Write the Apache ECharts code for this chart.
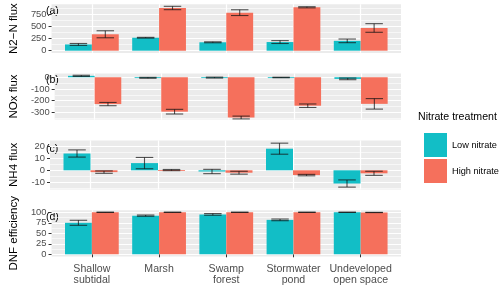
<!DOCTYPE html>
<html><head><meta charset="utf-8">
<script src="https://cdn.jsdelivr.net/npm/echarts@6/dist/echarts.min.js"></script>
<style>html,body{margin:0;padding:0;background:#fff}#c{width:500px;height:289px}</style>
</head><body><div id="c"></div><script>
// ---- data ----
const categories = ['Shallow\nsubtidal', 'Marsh', 'Swamp\nforest', 'Stormwater\npond', 'Undeveloped\nopen space'];
const seriesNames = ['Low nitrate', 'High nitrate'];

const n2Low = [130, 270, 175, 180, 205];
const n2LowSE = [20, 8, 10, 30, 38];
const n2High = [342, 889, 792, 904, 473];
const n2HighSE = [73, 35, 60, 12, 90];

const noxLow = [12, -5, -3, -2, -14];
const noxLowSE = [5, 4, 4, 2, 7];
const noxHigh = [-230, -295, -345, -244, -228];
const noxHighSE = [14, 20, 12, 15, 45];

const nh4Low = [14, 6, -1, 18, -11];
const nh4LowSE = [3, 4.7, 1.8, 4.6, 3];
const nh4High = [-1.5, 0.2, -2, -4, -2.5];
const nh4HighSE = [1, 0.5, 1.2, 0.6, 1.7];

const dnfLow = [75, 92, 95, 82, 100];
const dnfLowSE = [6, 1.5, 2, 2, 0.3];
const dnfHigh = [100, 100, 100, 100, 99.6];
const dnfHighSE = [0.3, 0.3, 0.3, 0.3, 0.3];

const panelTitles = ['N2\u2212N flux', 'NOx flux', 'NH4 flux', 'DNF efficiency'];
const panelTags = ['(a)', '(b)', '(c)', '(d)'];
const majorTicks = [[0, 250, 500, 750], [-300, -200, -100, 0], [-10, 0, 10, 20], [0, 25, 50, 75, 100]];
const minorTicks = [[125, 375, 625, 875], [-350, -250, -150, -50], [-15, -5, 5, 15], [12.5, 37.5, 62.5, 87.5]];
const yRanges = [[-46, 966], [-363, 33], [-15.9, 24.9], [-5, 105]];

const panelLow = [[n2Low, n2LowSE], [noxLow, noxLowSE], [nh4Low, nh4LowSE], [dnfLow, dnfLowSE]];
const panelHigh = [[n2High, n2HighSE], [noxHigh, noxHighSE], [nh4High, nh4HighSE], [dnfHigh, dnfHighSE]];

// ---- layout ----
const FONT = 'Liberation Sans, Arial, sans-serif';
const colors = ['#12BEC6', '#F5705C'];
const grids = [
  {top: 4.3, height: 48.6},
  {top: 73.4, height: 46.2},
  {top: 140.4, height: 49},
  {top: 210.2, height: 46.2}
];
const catPos = categories.map((c, i) => i + 1);

function makeRender(side) {
  return function (params, api) {
    const x = api.value(0), v = api.value(1), se = api.value(2);
    const x0 = side === 0 ? x - 0.4 : x;
    const x1 = side === 0 ? x : x + 0.4;
    const p0 = api.coord([x0, 0]);
    const p1 = api.coord([x1, v]);
    const xc = api.coord([(x0 + x1) / 2, 0])[0];
    const ew = api.size([0.13, 0])[0];
    const yT = api.coord([x, v + se])[1];
    const yB = api.coord([x, v - se])[1];
    const h = Math.max(Math.abs(p1[1] - p0[1]), 0.8);
    const ec = 'rgba(20,20,20,0.72)';
    return {
      type: 'group',
      children: [
        {type: 'rect', shape: {x: Math.min(p0[0], p1[0]), y: Math.min(p0[1], p1[1]), width: Math.abs(p1[0] - p0[0]), height: h},
          style: {fill: api.visual('color')}},
        {type: 'line', shape: {x1: xc, y1: yT, x2: xc, y2: yB}, style: {stroke: ec, lineWidth: 1.1}},
        {type: 'line', shape: {x1: xc - ew, y1: yT, x2: xc + ew, y2: yT}, style: {stroke: ec, lineWidth: 1.1}},
        {type: 'line', shape: {x1: xc - ew, y1: yB, x2: xc + ew, y2: yB}, style: {stroke: ec, lineWidth: 1.1}}
      ]
    };
  };
}

const option = {
  animation: false,
  backgroundColor: '#fff',
  textStyle: {fontFamily: FONT},
  grid: grids.map(g => ({left: 46, width: 355, top: g.top, height: g.height, show: true,
    backgroundColor: '#EBEBEB', borderWidth: 0})),
  xAxis: grids.map((g, i) => ({
    gridIndex: i, type: 'value', min: 0.4, max: 5.6,
    axisLine: {show: false},
    axisTick: {show: i === 3, length: 3, lineStyle: {color: '#333'}, customValues: catPos},
    axisLabel: {show: i === 3, customValues: catPos, formatter: v => categories[Math.round(v) - 1],
      color: '#4D4D4D', fontSize: 10.6, lineHeight: 11.5, margin: 6.5, fontFamily: FONT},
    splitLine: {show: true, lineStyle: {color: '#fff', width: 1.2}}
  })),
  yAxis: [].concat(
    grids.map((g, i) => ({
      gridIndex: i, type: 'value', min: yRanges[i][0], max: yRanges[i][1],
      name: panelTitles[i], nameLocation: 'middle', nameGap: 30, nameRotate: 90,
      nameTextStyle: {color: '#000', fontSize: 11.5, fontFamily: FONT},
      axisLine: {show: false},
      axisTick: {show: true, length: 3, lineStyle: {color: '#333'}, customValues: majorTicks[i]},
      axisLabel: {customValues: majorTicks[i], color: '#4D4D4D', fontSize: 9.4, margin: 5, fontFamily: FONT},
      splitLine: {show: true, lineStyle: {color: '#fff', width: 1.2}}
    })),
    grids.map((g, i) => ({
      gridIndex: i, type: 'value', min: yRanges[i][0], max: yRanges[i][1], position: 'left',
      axisLine: {show: false},
      axisTick: {show: false, customValues: minorTicks[i]},
      axisLabel: {show: false, customValues: minorTicks[i]},
      splitLine: {show: true, lineStyle: {color: '#fff', width: 0.6}}
    }))
  ),
  legend: {
    orient: 'vertical', left: 419, top: 128, itemWidth: 23, itemHeight: 24, itemGap: 2,
    icon: 'rect', data: seriesNames,
    textStyle: {fontSize: 9.2, color: '#000', fontFamily: FONT}
  },
  graphic: [
    {type: 'text', left: 418, top: 112, style: {text: 'Nitrate treatment', fontSize: 10.6, fill: '#000', fontFamily: FONT}}
  ].concat(panelTags.map((t, i) => ({
    type: 'text', left: 46, top: [6, 74.5, 143.5, 212][i],
    style: {text: t, fontSize: 10.5, fill: '#000', fontFamily: FONT}
  }))),
  series: []
};

for (let i = 0; i < 4; i++) {
  [panelLow[i], panelHigh[i]].forEach((pair, s) => {
    option.series.push({
      type: 'custom', name: seriesNames[s], xAxisIndex: i, yAxisIndex: i,
      itemStyle: {color: colors[s]},
      renderItem: makeRender(s),
      encode: {x: 0, y: 1},
      data: catPos.map((x, k) => [x, pair[0][k], pair[1][k]])
    });
  });
}

const chart = echarts.init(document.getElementById('c'), null, {renderer: 'canvas'});
chart.setOption(option);
</script></body></html>
